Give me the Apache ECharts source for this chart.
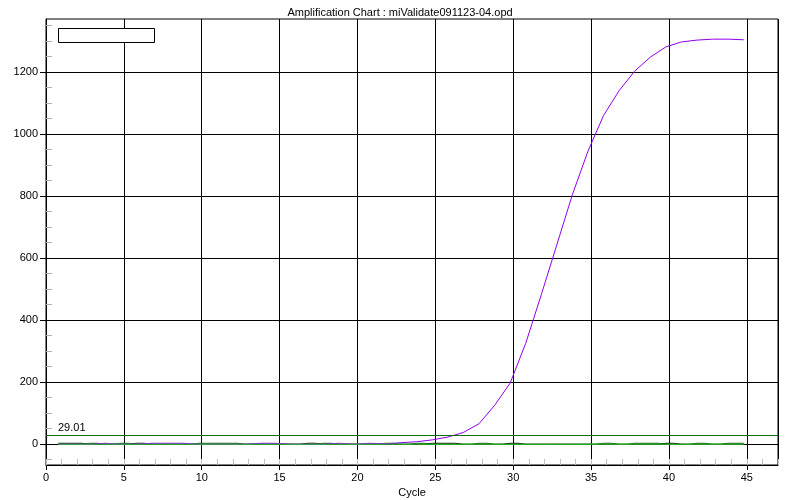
<!DOCTYPE html>
<html><head><meta charset="utf-8">
<script src="https://cdn.jsdelivr.net/npm/echarts@6/dist/echarts.min.js"></script>
<style>html,body{margin:0;padding:0;background:#fff}#c{width:800px;height:500px}</style>
</head><body><div id="c"></div>
<script>
const titleText = 'Amplification Chart : miValidate091123-04.opd';
const xName = 'Cycle';
const yName = 'PCR Base Line Subtracted Curve Fit RFU';
const thresholdLabel = '29.01';
const threshold = 29.01;

const cycles = [0.8,1.8,2.8,3.8,4.8,5.8,6.8,7.8,8.8,9.8,10.8,11.8,12.8,13.8,14.8,15.8,16.8,17.8,18.8,19.8,
  20.8,21.8,22.8,23.8,24.8,25.8,26.8,27.8,28.8,29.8,30.8,31.8,32.8,33.8,34.8,35.8,36.8,37.8,38.8,39.8,
  40.8,41.8,42.8,43.8,44.8];
const purpleRFU = [0,0,0,3,0,0,3,3,3,0,0,0,0,3,3,0,0,0,3,0,
  3,1,5,8,14,23,38,66,125,197,325,482,643,805,945,1060,1140,1203,1248,1281,
  1297,1303,1306,1306,1304];
const blackRFU = [3,3,0,0,0,3,0,0,0,0,0,0,0,0,0,0,3,0,0,0,
  0,0,0,0,3,3,0,0,0,3,0,0,0,0,0,0,0,0,0,3,
  0,0,0,0,0];
const darkGreenRFU = [0,0,3,0,3,0,0,0,0,3,3,3,0,0,0,0,0,3,0,0,
  0,3,0,3,0,0,0,3,0,0,0,0,0,0,0,3,0,3,3,0,
  0,3,0,3,3];
const limeRFU = [0,0,0,0,0,0,0,0,0,0,0,0,0,0,0,0,0,0,0,0,
  0,0,0,0,0,0,0,0,0,0,0,0,0,0,0,0,0,0,0,0,
  0,0,0,0,0];

const yMajorTicks = [0,200,400,600,800,1000,1200];
const yMinorTicks = [-50,50,100,150,250,300,350,450,500,550,650,700,750,850,900,950,1050,1100,1150,1250,1300,1350];

const pairs = arr => cycles.map((c, i) => [c, arr[i]]);
const FONT = "'Liberation Sans', Arial, sans-serif";

const chart = echarts.init(document.getElementById('c'), null, {renderer: 'canvas'});
const yMin = -67, yMax = 1371;
chart.setOption({
  animation: false,
  backgroundColor: '#fff',
  textStyle: {fontFamily: FONT, color: '#000'},
  title: {text: titleText, left: 'center', top: 2,
    textStyle: {fontSize: 11, fontWeight: 'normal', color: '#000', fontFamily: FONT}},
  grid: {left: 46, right: 22, top: 19, bottom: 35, show: true, borderColor: '#000', borderWidth: 1,
    backgroundColor: '#fff', containLabel: false, outerBoundsMode: 'none'},
  xAxis: [{
    type: 'value', min: 0, max: 47, interval: 5, position: 'bottom',
    name: xName, nameLocation: 'middle', nameGap: 21,
    nameTextStyle: {fontSize: 11, color: '#000', fontFamily: FONT},
    axisLine: {show: true, onZero: false, lineStyle: {color: '#000'}},
    axisTick: {show: true, length: 5, lineStyle: {color: '#000'}},
    axisLabel: {fontSize: 11, color: '#000', margin: 7, showMaxLabel: false, fontFamily: FONT,
      formatter: v => (v % 5 === 0 && v <= 45) ? String(v) : ''},
    splitLine: {show: true, lineStyle: {color: '#000', width: 1}}
  }, {
    type: 'value', min: 0, max: 47, interval: 1, position: 'bottom',
    axisLine: {show: false, onZero: false}, axisLabel: {show: false}, splitLine: {show: false},
    axisTick: {show: true, inside: true, length: 6, lineStyle: {color: '#c0c0c0'}}
  }],
  yAxis: [{
    type: 'value', min: yMin, max: yMax, position: 'left',
    name: yName, nameLocation: 'middle', nameGap: 33,
    nameTextStyle: {fontSize: 12, color: '#000', fontFamily: FONT},
    axisLine: {show: true, onZero: false, lineStyle: {color: '#000'}},
    axisTick: {show: true, length: 6, customValues: yMajorTicks, lineStyle: {color: '#000'}},
    axisLabel: {fontSize: 11, color: '#000', margin: 8, customValues: yMajorTicks, fontFamily: FONT,
      formatter: v => String(v)},
    splitLine: {show: true, lineStyle: {color: '#000', width: 1}}
  }, {
    type: 'value', min: yMin, max: yMax, position: 'left',
    axisLine: {show: false, onZero: false}, axisLabel: {show: false}, splitLine: {show: false},
    axisTick: {show: true, inside: true, length: 6, customValues: yMinorTicks, lineStyle: {color: '#b0b0b0'}}
  }],
  graphic: [{
    type: 'rect', shape: {x: 58.5, y: 28.5, width: 96, height: 14},
    style: {fill: '#fff', stroke: '#000', lineWidth: 1}, z: 100
  }],
  series: [{
    type: 'line', data: pairs(blackRFU), step: 'middle', showSymbol: false, symbol: 'none',
    lineStyle: {color: '#000', width: 1}, z: 2
  }, {
    type: 'line', data: pairs(darkGreenRFU), step: 'middle', showSymbol: false, symbol: 'none',
    lineStyle: {color: '#006400', width: 1}, z: 3
  }, {
    type: 'line', data: pairs(purpleRFU), showSymbol: false, symbol: 'none',
    lineStyle: {color: '#9300f0', width: 1}, z: 4
  }, {
    type: 'line', data: pairs(limeRFU), showSymbol: false, symbol: 'none',
    lineStyle: {color: '#33cc33', width: 1}, z: 5,
    markLine: {
      silent: true, symbol: 'none', animation: false,
      lineStyle: {color: '#0b700b', type: 'solid', width: 1},
      label: {show: true, position: 'insideStartTop', formatter: thresholdLabel, color: '#000', fontSize: 11,
        fontFamily: FONT, distance: [12, 2]},
      data: [{yAxis: threshold}]
    }
  }]
});
</script>
</body></html>
